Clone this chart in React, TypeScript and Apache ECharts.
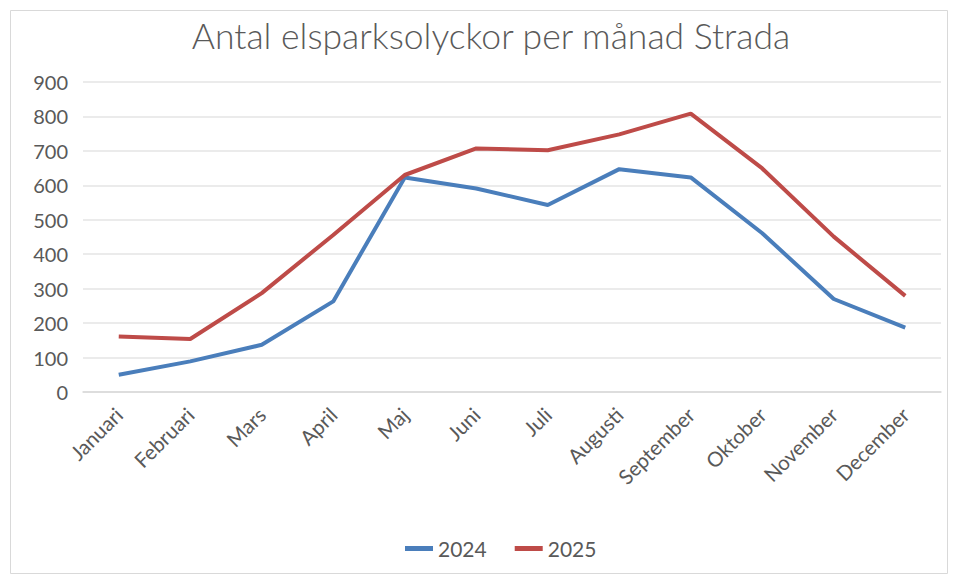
import React, { useEffect, useRef } from "react";
import * as echarts from "echarts";

const titleText = "Antal elsparksolyckor per månad Strada";
const months = ["Januari", "Februari", "Mars", "April", "Maj", "Juni", "Juli", "Augusti", "September", "Oktober", "November", "December"];
const seriesNames = ["2024", "2025"];
const values2024 = [50, 89, 137, 263, 623, 591, 543, 647, 623, 461, 270, 187];
const values2025 = [161, 154, 287, 456, 630, 707, 702, 748, 808, 649, 451, 279];
const yTicks = { min: 0, max: 900, interval: 100 };

export default function App() {
  const ref = useRef<HTMLDivElement>(null);
  useEffect(() => {
    if (!ref.current) return;
    const chart = echarts.init(ref.current, undefined, { renderer: "svg" });
    const font = "Lato, 'Open Sans', sans-serif";
    chart.setOption({
      animation: false,
      backgroundColor: "#ffffff",
      textStyle: { fontFamily: font },
      graphic: [
        {
          type: "rect",
          shape: { x: 10.5, y: 10.5, width: 937, height: 563 },
          style: { fill: "none", stroke: "#d9d9d9", lineWidth: 1 },
          silent: true,
        },
      ],
      title: {
        text: titleText,
        left: 486,
        textAlign: "center",
        top: 12,
        textStyle: { fontFamily: font, fontSize: 35.5, fontWeight: 300, color: "#595959" },
      },
      legend: {
        bottom: 20,
        left: 405,
        padding: 0,
        itemWidth: 28,
        itemHeight: 5,
        itemGap: 28,
        icon: "rect",
        textStyle: { fontFamily: font, fontSize: 21, color: "#595959" },
        data: seriesNames,
      },
      grid: { left: 83, right: 16, top: 82, bottom: 187, containLabel: false },
      xAxis: {
        type: "category",
        data: months,
        boundaryGap: true,
        axisLine: { show: true, lineStyle: { color: "#d9d9d9", width: 1.5 } },
        axisTick: { show: false },
        axisLabel: { rotate: 45, fontSize: 20.5, color: "#595959", margin: 19, fontFamily: font, interval: 0 },
      },
      yAxis: {
        type: "value",
        min: yTicks.min,
        max: yTicks.max,
        interval: yTicks.interval,
        axisLine: { show: false },
        axisTick: { show: false },
        axisLabel: { fontSize: 20, color: "#595959", margin: 15, fontFamily: font },
        splitLine: { lineStyle: { color: "#e4e4e4", width: 1.5 } },
      },
      series: [
        {
          name: seriesNames[0],
          type: "line",
          data: values2024,
          symbol: "none",
          lineStyle: { color: "#4a7ebb", width: 4 },
          itemStyle: { color: "#4a7ebb" },
        },
        {
          name: seriesNames[1],
          type: "line",
          data: values2025,
          symbol: "none",
          lineStyle: { color: "#be4b48", width: 4 },
          itemStyle: { color: "#be4b48" },
        },
      ],
    });
    return () => chart.dispose();
  }, []);
  return <div ref={ref} style={{ width: 957, height: 579, position: "absolute", left: 0, top: 0 }} />;
}
